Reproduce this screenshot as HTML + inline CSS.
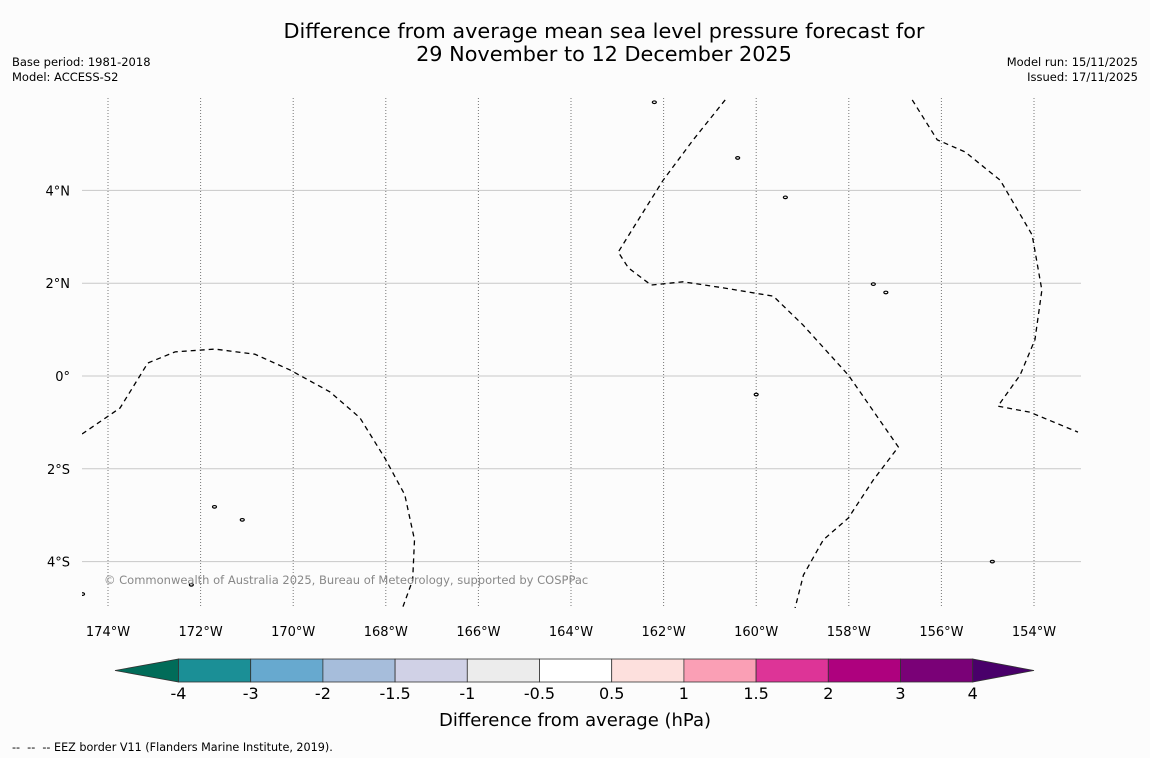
<!DOCTYPE html>
<html><head><meta charset="utf-8"><style>
body{margin:0;background:#fcfcfc;font-family:"DejaVu Sans","Liberation Sans",sans-serif;}
#wrap{position:relative;width:1150px;height:758px;overflow:hidden;background:#fcfcfc}
text{white-space:pre}
</style></head><body>
<div id="wrap">
<svg id="svg" width="1150" height="758" xmlns="http://www.w3.org/2000/svg"></svg>
</div>
<script>
const lonTicks=[-174,-172,-170,-168,-166,-164,-162,-160,-158,-156,-154];
const latTicks=[4,2,0,-2,-4];
const cbLevels=[-4,-3,-2,-1.5,-1,-0.5,0.5,1,1.5,2,3,4];
const cbLabels=["-4","-3","-2","-1.5","-1","-0.5","0.5","1","1.5","2","3","4"];
const cbColors=["#1b8f96","#67a9cf","#a6bddb","#d0d1e6","#ececec","#ffffff","#fde0dd","#fa9fb5","#dd3497","#ae017e","#7a0177"];
const lowColor="#016c59", highColor="#49006a";
// EEZ borders (lon, lat)
const eezLeft=[[-174.56,-1.25],[-173.74,-0.69],[-173.14,0.28],[-172.55,0.52],[-171.69,0.58],[-170.83,0.47],[-170.07,0.13],[-169.21,-0.34],[-168.56,-0.9],[-168.02,-1.77],[-167.59,-2.56],[-167.38,-3.53],[-167.42,-4.4],[-167.64,-5.0]];
const eezMid=[[-160.67,5.95],[-161.36,5.09],[-162.01,4.22],[-162.55,3.36],[-162.98,2.67],[-162.76,2.33],[-162.27,1.96],[-161.58,2.03],[-160.71,1.9],[-159.63,1.72],[-158.99,1.1],[-158.01,0.02],[-156.93,-1.53],[-157.47,-2.24],[-158.01,-3.06],[-158.55,-3.53],[-158.98,-4.29],[-159.16,-5.0]];
const eezRight=[[-156.63,5.95],[-156.09,5.09],[-155.49,4.83],[-154.73,4.22],[-154.04,3.04],[-153.83,1.85],[-153.98,0.78],[-154.30,0.02],[-154.78,-0.65],[-154.09,-0.78],[-153.05,-1.21]];
const islands=[[-159.37,3.85],[-157.47,1.98],[-157.2,1.8],[-171.7,-2.82],[-171.1,-3.1],[-172.2,-4.5],[-154.9,-4.0],[-160.4,4.7],[-162.2,5.9],[-160.0,-0.4],[-174.55,-4.7]];
const X0=82,X1=1081,Y0=98,Y1=608;
const xs=lon=>108+(lon+174)*46.3;
const ys=lat=>376-lat*46.4;
const svg=document.getElementById('svg');
const NS="http://www.w3.org/2000/svg";
function mk(t,a,p){const e=document.createElementNS(NS,t);for(const k in a)e.setAttribute(k,a[k]);(p||svg).appendChild(e);return e;}
function txt(x,y,s,size,anchor,fill){const e=mk('text',{x:x,y:y,'font-size':size,'text-anchor':anchor||'middle',fill:fill||'#000','font-family':'"DejaVu Sans","Liberation Sans",sans-serif'});e.textContent=s;return e;}
let t;
t=txt(604,38,"Difference from average mean sea level pressure forecast for",20.8);

t=txt(604,61,"29 November to 12 December 2025",20.8);

t=txt(12,66,"Base period: 1981-2018",11.5,'start');

t=txt(12,81,"Model: ACCESS-S2",11.5,'start');

t=txt(1138,66,"Model run: 15/11/2025",11.5,'end');

t=txt(1138,81,"Issued: 17/11/2025",11.5,'end');

lonTicks.forEach(l=>{
 const g=mk('line',{x1:xs(l),x2:xs(l),y1:Y0,y2:Y1,stroke:'#777','stroke-width':1,'stroke-dasharray':'1,2'});
 
 const lb=txt(xs(l),636,Math.abs(l)+"°W",13);
 
});
latTicks.forEach(l=>{
 const g=mk('line',{x1:X0,x2:X1,y1:ys(l),y2:ys(l),stroke:'#c8c8c8','stroke-width':1});
 
 const s=l===0?"0°":Math.abs(l)+"°"+(l>0?"N":"S");
 const lb=txt(70,ys(l)+5,s,13,'end');
 
});
const clip=mk('clipPath',{id:'mapclip'});mk('rect',{x:X0,y:Y0,width:X1-X0,height:Y1-Y0},clip);
const gm=mk('g',{'clip-path':'url(#mapclip)'});

[eezLeft,eezMid,eezRight].forEach(line=>{
 const p=mk('polyline',{points:line.map(d=>xs(d[0])+","+ys(d[1])).join(" "),fill:'none',stroke:'#000','stroke-width':1.3,'stroke-dasharray':'5,4'},gm);
 
});
islands.forEach(d=>{
 const e=mk('ellipse',{cx:xs(d[0]),cy:ys(d[1]),rx:2,ry:1.3,fill:'none',stroke:'#000','stroke-width':1.2},gm);
 
});
t=txt(104,584,"© Commonwealth of Australia 2025, Bureau of Meteorology, supported by COSPPac",11.5,'start','#888');

const cbX0=178.5,cbW=72.2,cbY=659,cbH=23;
const cbx=i=>cbX0+i*cbW;
const tri1=mk('polygon',{points:`${cbx(0)},${cbY} ${cbx(0)},${cbY+cbH} 115,${cbY+cbH/2}`,fill:lowColor,stroke:'#333','stroke-width':0.8});

cbColors.forEach((c,i)=>{
 const r=mk('rect',{x:cbx(i),y:cbY,width:cbW,height:cbH,fill:c,stroke:'#333','stroke-width':0.8});
 
});
const n=cbColors.length;
const tri2=mk('polygon',{points:`${cbx(n)},${cbY} ${cbx(n)},${cbY+cbH} 1034,${cbY+cbH/2}`,fill:highColor,stroke:'#333','stroke-width':0.8});

cbLevels.forEach((v,i)=>{
 const lb=txt(cbx(i),699,cbLabels[i],16);
 
});
t=txt(575,726,"Difference from average (hPa)",18);

t=txt(12,751,"--  --  -- EEZ border V11 (Flanders Marine Institute, 2019).",11.2,'start');

</script>
</body></html>
